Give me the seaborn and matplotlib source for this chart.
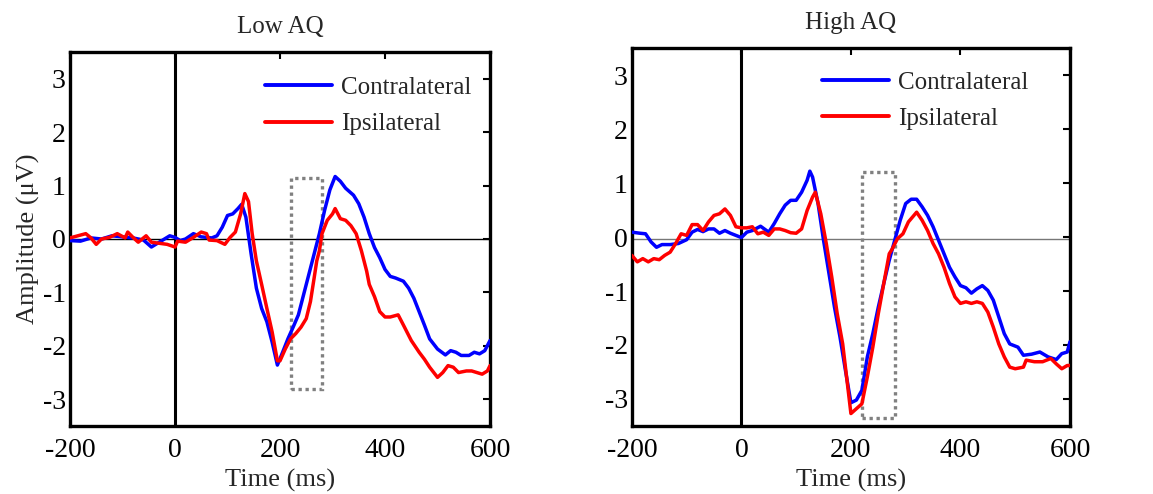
import numpy as np
import pandas as pd
import matplotlib
matplotlib.use("Agg")
import matplotlib.pyplot as plt
import seaborn as sns
from matplotlib.patches import Rectangle

# ---------------- data ----------------
conditions = ["Contralateral", "Ipsilateral"]
panel_titles = ["Low AQ", "High AQ"]
x_ticks = [-200, 0, 200, 400, 600]
y_ticks = [-3, -2, -1, 0, 1, 2, 3]

t_low_contra = [-200, -180, -160, -140, -120, -100, -80, -60, -45, -30, -10, 0, 10, 20, 35, 50, 70, 80, 90,
                100, 110, 120, 127, 135, 145, 155, 165, 175, 185, 195, 205, 215, 225, 235, 245, 255, 265, 275,
                285, 295, 305, 315, 325, 340, 350, 360, 370, 380, 390, 400, 410, 420, 435, 445, 455, 465, 475,
                485, 500, 515, 525, 535, 545, 560, 570, 580, 590, 600]
v_low_contra = [-0.03, -0.04, 0.02, 0.0, 0.06, 0.04, 0.02, -0.02, -0.15, -0.06, 0.06, 0.03, -0.03, 0.0, 0.1,
                0.04, 0.02, 0.06, 0.22, 0.44, 0.47, 0.57, 0.65, 0.41, -0.28, -0.92, -1.3, -1.55, -1.93, -2.36,
                -2.12, -1.87, -1.65, -1.42, -1.04, -0.66, -0.28, 0.1, 0.54, 0.92, 1.17, 1.08, 0.95, 0.82, 0.66,
                0.41, 0.1, -0.16, -0.35, -0.57, -0.7, -0.73, -0.79, -0.92, -1.11, -1.36, -1.61, -1.87, -2.06,
                -2.17, -2.09, -2.12, -2.18, -2.18, -2.12, -2.15, -2.09, -1.9]

t_low_ipsi = [-200, -185, -170, -160, -150, -140, -125, -110, -95, -90, -80, -70, -55, -45, -30, -15, 0, 5, 20,
              35, 50, 60, 65, 80, 95, 105, 115, 125, 133, 140, 147, 155, 165, 175, 185, 195, 200, 210, 220, 230,
              240, 250, 258, 265, 270, 275, 280, 290, 300, 305, 315, 325, 335, 345, 355, 365, 370, 380, 390, 400,
              410, 425, 435, 450, 465, 475, 485, 500, 510, 520, 530, 540, 555, 565, 575, 585, 595, 600]
v_low_ipsi = [0.02, 0.06, 0.1, 0.02, -0.1, 0.0, 0.03, 0.1, 0.02, 0.13, 0.03, -0.06, 0.06, -0.06, -0.08, -0.1,
              -0.15, -0.04, -0.06, 0.03, 0.13, 0.1, -0.02, -0.03, -0.1, 0.03, 0.13, 0.47, 0.85, 0.7, 0.1, -0.41,
              -0.85, -1.3, -1.74, -2.28, -2.28, -2.06, -1.87, -1.77, -1.65, -1.49, -1.17, -0.73, -0.41, -0.22,
              0.1, 0.35, 0.47, 0.57, 0.38, 0.35, 0.25, 0.1, -0.22, -0.6, -0.85, -1.08, -1.36, -1.46, -1.46,
              -1.42, -1.61, -1.9, -2.12, -2.25, -2.4, -2.59, -2.5, -2.37, -2.4, -2.5, -2.47, -2.47, -2.5, -2.53,
              -2.47, -2.37]

t_high_contra = [-200, -185, -175, -165, -155, -145, -130, -115, -100, -90, -80, -70, -60, -50, -40, -30, -20,
                 -10, 0, 10, 20, 35, 50, 60, 70, 80, 90, 100, 110, 120, 125, 130, 140, 150, 160, 170, 180, 190,
                 200, 210, 220, 230, 240, 250, 260, 270, 280, 290, 300, 310, 320, 330, 340, 350, 360, 370, 380,
                 390, 400, 410, 420, 430, 440, 450, 460, 470, 480, 490, 505, 515, 530, 545, 560, 575, 585, 595,
                 600]
v_high_contra = [0.09, 0.07, 0.06, -0.09, -0.19, -0.14, -0.14, -0.12, -0.05, 0.09, 0.14, 0.1, 0.15, 0.15, 0.07,
                 0.12, 0.07, 0.03, -0.01, 0.09, 0.12, 0.2, 0.09, 0.25, 0.43, 0.59, 0.68, 0.68, 0.83, 1.05, 1.22,
                 1.11, 0.62, -0.06, -0.68, -1.3, -1.85, -2.47, -3.07, -3.02, -2.84, -2.22, -1.79, -1.3, -0.86,
                 -0.43, -0.06, 0.31, 0.62, 0.7, 0.7, 0.56, 0.4, 0.19, -0.06, -0.31, -0.56, -0.74, -0.9, -0.94,
                 -1.04, -0.96, -0.9, -0.99, -1.17, -1.48, -1.79, -1.98, -2.04, -2.19, -2.17, -2.13, -2.22, -2.27,
                 -2.16, -2.13, -1.94]

t_high_ipsi = [-200, -190, -180, -170, -160, -150, -140, -130, -120, -110, -100, -90, -80, -70, -60, -50, -40,
               -30, -20, -10, 0, 10, 20, 30, 40, 50, 60, 70, 80, 90, 100, 110, 120, 130, 135, 145, 155, 165, 175,
               185, 195, 200, 210, 220, 230, 240, 250, 260, 270, 275, 285, 295, 305, 320, 330, 340, 350, 360, 370,
               380, 390, 400, 410, 420, 430, 440, 450, 460, 470, 480, 490, 500, 515, 520, 535, 550, 565, 575, 585,
               595, 600]
v_high_ipsi = [-0.34, -0.46, -0.4, -0.46, -0.4, -0.42, -0.34, -0.28, -0.12, 0.06, 0.03, 0.23, 0.23, 0.12, 0.28,
               0.4, 0.43, 0.52, 0.4, 0.19, 0.17, 0.17, 0.19, 0.06, 0.09, 0.03, 0.15, 0.15, 0.12, 0.08, 0.07, 0.15,
               0.49, 0.74, 0.83, 0.43, -0.12, -0.74, -1.42, -1.98, -2.84, -3.27, -3.18, -3.09, -2.59, -2.04,
               -1.42, -0.86, -0.31, -0.23, -0.03, 0.06, 0.28, 0.46, 0.31, 0.12, -0.12, -0.31, -0.56, -0.86,
               -1.11, -1.23, -1.2, -1.23, -1.2, -1.23, -1.39, -1.67, -1.98, -2.22, -2.41, -2.44, -2.41, -2.28,
               -2.31, -2.31, -2.25, -2.35, -2.44, -2.38, -2.38]

box_t = [220, 280]
box_low_v = [-2.8, 1.15]
box_high_v = [-3.35, 1.2]
zero_line_level = [0.0, -0.04]


def make_df(t_c, v_c, t_i, v_i):
    return pd.concat([
        pd.DataFrame({"time": t_c, "amp": v_c, "cond": conditions[0]}),
        pd.DataFrame({"time": t_i, "amp": v_i, "cond": conditions[1]}),
    ], ignore_index=True)


dfs = [make_df(t_low_contra, v_low_contra, t_low_ipsi, v_low_ipsi),
       make_df(t_high_contra, v_high_contra, t_high_ipsi, v_high_ipsi)]
boxes = [box_low_v, box_high_v]

# ---------------- style ----------------
sns.set_theme(style="white")
plt.rcParams["font.family"] = ["Liberation Serif", "DejaVu Serif"]
plt.rcParams["axes.unicode_minus"] = False
plt.rcParams["xtick.direction"] = "in"
plt.rcParams["ytick.direction"] = "in"

fig = plt.figure(figsize=(11.53, 4.94), dpi=100)
axes_pos = [[0.0607, 0.1377, 0.3643, 0.757],
            [0.548, 0.1377, 0.380, 0.765]]
legend_anchor = [(0.464, 0.934), (0.434, 0.939)]
title_pad = [14, 14]
zero_colors = ["black", "#777777"]
palette = {conditions[0]: "#0000ff", conditions[1]: "#ff0000"}

for i in range(2):
    ax = fig.add_axes(axes_pos[i])
    ax.axhline(zero_line_level[i], color=zero_colors[i], lw=1.0, zorder=1)
    ax.axvline(0, color="black", lw=2.2, zorder=1)
    ax.add_patch(Rectangle((box_t[0], boxes[i][0]), box_t[1] - box_t[0], boxes[i][1] - boxes[i][0],
                           fill=False, edgecolor="#808080", lw=2.4, linestyle=(0, (1, 1.1)), zorder=1))
    sns.lineplot(data=dfs[i], x="time", y="amp", hue="cond", palette=palette, estimator=None,
                 sort=True, lw=2.5, ax=ax, zorder=3)
    ax.set_xlim(-200, 600)
    ax.set_ylim(-3.5, 3.5)
    ax.set_xticks(x_ticks)
    ax.set_yticks(y_ticks)
    ax.tick_params(axis="both", which="both", direction="in", length=5, width=1.5,
                   top=True, right=True, labelsize=20, colors="black")
    ax.tick_params(axis="x", pad=9)
    ax.tick_params(axis="y", pad=3)
    for sp in ax.spines.values():
        sp.set_linewidth(2.4)
        sp.set_color("black")
    ax.set_xlabel("Time (ms)", fontsize=19, labelpad=4)
    if i == 0:
        ax.set_ylabel("Amplitude (μV)", fontsize=19, labelpad=2)
    else:
        ax.set_ylabel("")
    ax.set_title(panel_titles[i], fontsize=18, pad=title_pad[i])
    leg = ax.legend(loc="upper left", bbox_to_anchor=legend_anchor[i], frameon=False, fontsize=18,
                    handlelength=2.7, handletextpad=0.35, labelspacing=0.55, borderpad=0,
                    borderaxespad=0)
    for h in leg.get_lines():
        h.set_linewidth(2.8)

fig.savefig("out.png", dpi=100)
